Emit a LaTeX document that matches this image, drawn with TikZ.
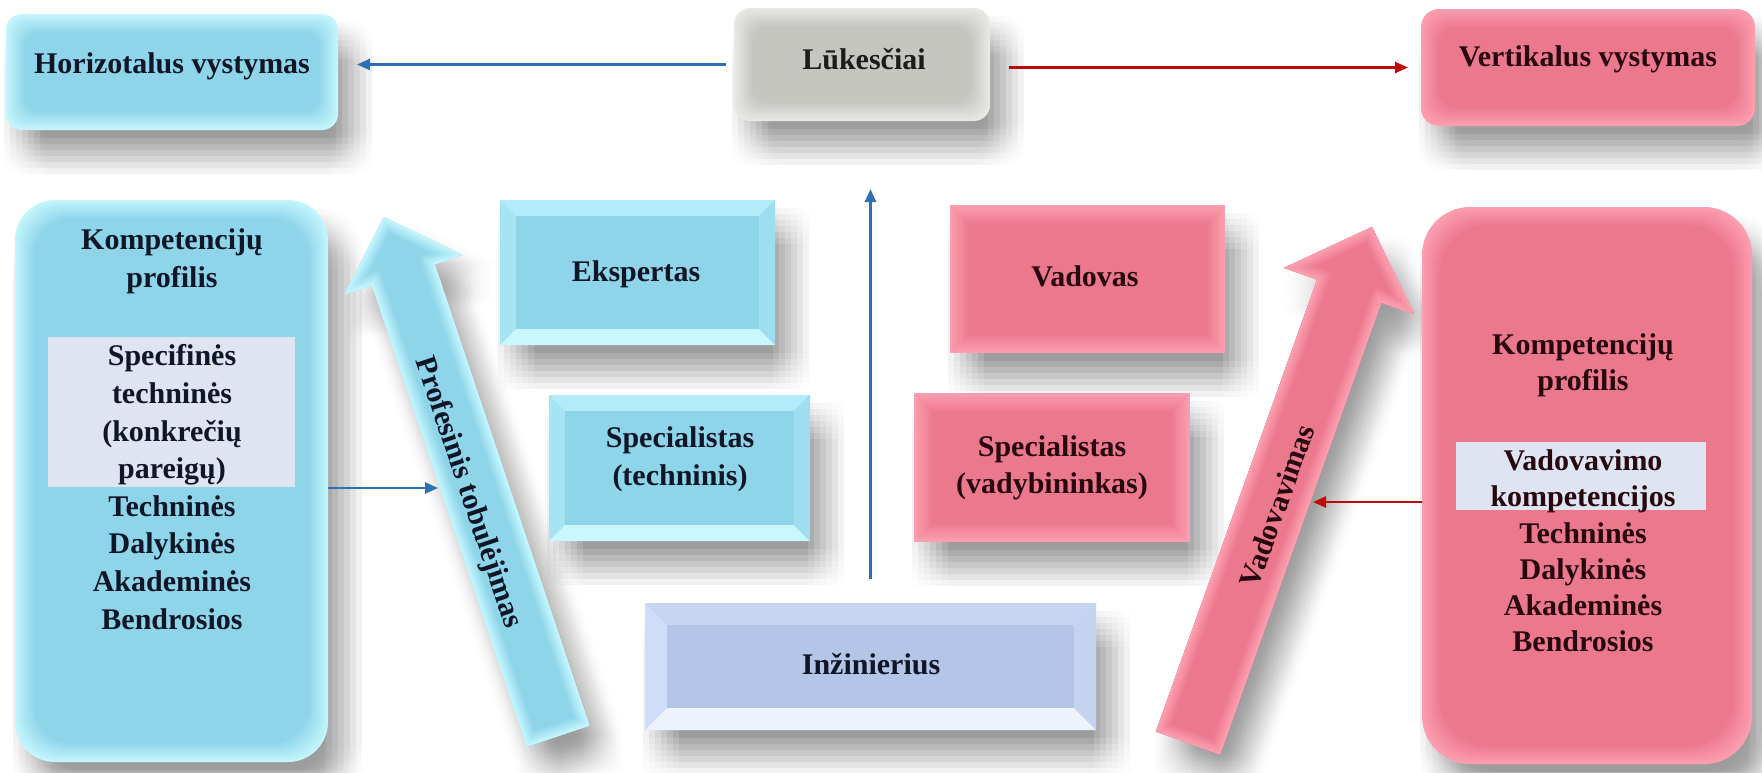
\documentclass[tikz,border=0pt]{standalone}
\usepackage{fontspec}
\setmainfont{Liberation Serif}
\usetikzlibrary{arrows.meta,calc,backgrounds}

\definecolor{bluebase}{RGB}{143,213,233}
\definecolor{bluerim}{RGB}{195,245,253}
\definecolor{pinkbase}{RGB}{236,120,142}
\definecolor{pinkrim}{RGB}{252,158,175}
\definecolor{greybase}{RGB}{198,198,193}
\definecolor{greyrim}{RGB}{232,232,229}
\definecolor{lavbase}{RGB}{180,198,231}
\definecolor{panel}{RGB}{222,228,242}
\definecolor{bevtop}{RGB}{178,236,248}
\definecolor{bevleft}{RGB}{166,228,244}
\definecolor{bevbot}{RGB}{200,248,253}
\definecolor{bevright}{RGB}{158,222,240}
\definecolor{lavtop}{RGB}{198,214,242}
\definecolor{lavleft}{RGB}{206,222,248}
\definecolor{lavbot}{RGB}{236,243,253}
\definecolor{lavright}{RGB}{196,212,240}
\definecolor{inkblue}{RGB}{14,22,40}
\definecolor{inkred}{RGB}{40,8,14}
\definecolor{inkgrey}{RGB}{28,28,28}
\definecolor{lineblue}{RGB}{46,112,180}
\definecolor{linered}{RGB}{190,10,10}

% concentric layers fading from a light rim into the body colour
\newcommand{\glowlayers}[3]{%
  \foreach \k in {1,...,10}{%
    \pgfmathsetmacro{\share}{100-10*\k}%
    \fill[#1!\share!#2, rounded corners=#3]
      ($(path picture bounding box.north west)+(1.8*\k,1.8*\k)$) rectangle
      ($(path picture bounding box.south east)+(-1.8*\k,-1.8*\k)$);
  }}

% four bevel strips round a flat centre
\newcommand{\bevellayers}[6]{%
  \coordinate (q1) at (path picture bounding box.north west);
  \coordinate (q2) at (path picture bounding box.north east);
  \coordinate (q3) at (path picture bounding box.south east);
  \coordinate (q4) at (path picture bounding box.south west);
  \coordinate (r1) at ($(q1)+(#6,#6)$);
  \coordinate (r2) at ($(q2)+(-#6,#6)$);
  \coordinate (r3) at ($(q3)+(-#6,-#6)$);
  \coordinate (r4) at ($(q4)+(#6,-#6)$);
  \fill[#1] (q1) -- (q2) -- (r2) -- (r1) -- cycle;
  \fill[#2] (q1) -- (r1) -- (r4) -- (q4) -- cycle;
  \fill[#3] (q4) -- (r4) -- (r3) -- (q3) -- cycle;
  \fill[#4] (q2) -- (q3) -- (r3) -- (r2) -- cycle;
  \fill[#5] (r1) rectangle (r3);
}

% outlines of the two wide block arrows
\newcommand{\profshape}[1]{\path[#1] (pf1) -- (pf2) -- (pf3) -- (pfT) -- (pf5) -- (pf6) -- (pf7) -- cycle;}
\newcommand{\vadshape}[1]{\path[#1] (va1) -- (va2) -- (va3) -- (vaT) -- (va5) -- (va6) -- (va7) -- cycle;}

% block arrow body with a soft light edge
\newcommand{\arrowbody}[3]{%
  \begin{scope}
    #1{clip}
    #1{fill=#3}
    \foreach \k in {1,...,8}{%
      \pgfmathsetmacro{\share}{12.5*\k}%
      \pgfmathsetmacro{\lw}{2*(9-\k)*1.5}%
      #1{draw=#2!\share!#3, line width=\lw pt, line join=miter}
    }
  \end{scope}}

% soft drop shadow: many faint copies spread round an offset
\newcommand{\castbox}[2]{%
  \foreach \dx in {-18,-12,...,18}{\foreach \dy in {-18,-12,...,18}{%
    \pgfmathsetmacro{\sx}{16+\dx}\pgfmathsetmacro{\sy}{-26-\dy}%
    \begin{scope}[transform canvas={xshift=\sx pt, yshift=\sy pt}]
      \fill[black, fill opacity=0.009, rounded corners=#2] (#1.north west) rectangle (#1.south east);
    \end{scope}}}}
\newcommand{\castshape}[1]{%
  \foreach \dx in {-18,-12,...,18}{\foreach \dy in {-18,-12,...,18}{%
    \pgfmathsetmacro{\sx}{16+\dx}\pgfmathsetmacro{\sy}{-26-\dy}%
    \begin{scope}[transform canvas={xshift=\sx pt, yshift=\sy pt}]
      #1{fill=black, fill opacity=0.009}
    \end{scope}}}}

\tikzset{
  card/.style={inner sep=0pt, outer sep=0pt},
  glowcard/.style n args={3}{card, fill=#1, rounded corners=#3,
    path picture={\glowlayers{#1}{#2}{#3}}},
  bevelcard/.style n args={6}{card, fill=#5,
    path picture={\bevellayers{#1}{#2}{#3}{#4}{#5}{#6}}},
  word/.style={inner sep=0pt, align=center, font=\bfseries\fontsize{30}{37.6}\selectfont},
  link/.style={line width=2.4pt, -{Triangle[length=13pt,width=11pt]}},
}

\begin{document}
\begin{tikzpicture}[x=1pt, y=-1pt]
\useasboundingbox (0,0) rectangle (1762,772);

% ---- boxes
\node[glowcard={bluerim}{bluebase}{16pt}, minimum width=332pt, minimum height=116pt] (hor) at (172,72) {};
\node[glowcard={greyrim}{greybase}{16pt}, minimum width=256pt, minimum height=113pt] (luk) at (862,64.5) {};
\node[glowcard={pinkrim}{pinkbase}{18pt}, minimum width=334pt, minimum height=117pt] (ver) at (1588,67.5) {};
\node[glowcard={bluerim}{bluebase}{40pt}, minimum width=313pt, minimum height=562pt] (kl) at (171.5,481) {};
\node[glowcard={pinkrim}{pinkbase}{48pt}, minimum width=330pt, minimum height=557pt] (kr) at (1587,485.5) {};
\node[bevelcard={bevtop}{bevleft}{bevbot}{bevright}{bluebase}{16}, minimum width=275pt, minimum height=145pt] (eks) at (637.5,272.5) {};
\node[bevelcard={bevtop}{bevleft}{bevbot}{bevright}{bluebase}{16}, minimum width=261pt, minimum height=146pt] (spt) at (679.5,468) {};
\node[bevelcard={lavtop}{lavleft}{lavbot}{lavright}{lavbase}{22}, minimum width=451pt, minimum height=127pt] (inz) at (870.5,666.5) {};
\node[glowcard={pinkrim}{pinkbase}{0pt}, minimum width=275pt, minimum height=148pt] (vad) at (1087.5,279) {};
\node[glowcard={pinkrim}{pinkbase}{0pt}, minimum width=276pt, minimum height=149pt] (spv) at (1052,467.5) {};
\node[card, fill=panel, minimum width=247pt, minimum height=150pt] (pl) at (171.5,412) {};
\node[card, fill=panel, minimum width=250pt, minimum height=68pt] (pr) at (1581,476) {};

% ---- block arrows
\coordinate (pfB) at (558,736);
\coordinate (pfT) at (384,217);
\coordinate (pfH) at ($(pfT)!61pt!(pfB)$);
\coordinate (pf1) at ($(pfB)!33pt!90:(pfT)$);
\coordinate (pf2) at ($(pfH)!33pt!90:(pfT)$);
\coordinate (pf3) at ($(pfH)!62pt!90:(pfT)$);
\coordinate (pf5) at ($(pfH)!62pt!-90:(pfT)$);
\coordinate (pf6) at ($(pfH)!33pt!-90:(pfT)$);
\coordinate (pf7) at ($(pfB)!33pt!-90:(pfT)$);

\coordinate (vaB) at (1188,743);
\coordinate (vaT) at (1372,227);
\coordinate (vaH) at ($(vaT)!68pt!(vaB)$);
\coordinate (va1) at ($(vaB)!34pt!90:(vaT)$);
\coordinate (va2) at ($(vaH)!34pt!90:(vaT)$);
\coordinate (va3) at ($(vaH)!69pt!90:(vaT)$);
\coordinate (va5) at ($(vaH)!69pt!-90:(vaT)$);
\coordinate (va6) at ($(vaH)!34pt!-90:(vaT)$);
\coordinate (va7) at ($(vaB)!34pt!-90:(vaT)$);

\arrowbody{\profshape}{bluerim}{bluebase}
\arrowbody{\vadshape}{pinkrim}{pinkbase}

% ---- texts
\node[word, text=inkblue] (hor-t) at (172,66) {Horizotalus vystymas};
\node[word, text=inkgrey] (luk-t) at (864,59) {Lūkesčiai};
\node[word, text=inkred] (ver-t) at (1588,59) {Vertikalus vystymas};
\node[word, text=inkblue] (kl-head) at (172,261) {Kompetencijų\\profilis};
\node[word, text=inkblue] (kl-list) at (172,487) {Specifinės\\techninės\\(konkrečių\\pareigų)\\Techninės\\Dalykinės\\Akademinės\\Bendrosios};
\node[word, text=inkred, font=\bfseries\fontsize{30}{36.2}\selectfont] (kr-head) at (1583,365) {Kompetencijų\\profilis};
\node[word, text=inkred, font=\bfseries\fontsize{30}{36.2}\selectfont] (kr-list) at (1583,551) {Vadovavimo\\kompetencijos\\Techninės\\Dalykinės\\Akademinės\\Bendrosios};
\node[word, text=inkblue] (eks-t) at (636,274) {Ekspertas};
\node[word, text=inkblue] (spt-t) at (680,459) {Specialistas\\(techninis)};
\node[word, text=inkblue] (inz-t) at (871,664) {Inžinierius};
\node[word, text=inkred] (vad-t) at (1085,276) {Vadovas};
\node[word, text=inkred] (spv-t) at (1052,468) {Specialistas\\(vadybininkas)};
\node[word, text=inkblue, rotate=-71.4] (prof-t) at (468,493) {Profesinis tobulėjimas};
\node[word, text=inkred, rotate=70.4] (vadov-t) at (1277,506) {Vadovavimas};

% ---- connectors
\coordinate (profin) at (438,488);
\coordinate (vadin) at (1313,502);
\draw[link, lineblue, shorten >=19pt] ([xshift=-8pt]luk.west) -- (luk.west -| hor.east);
\draw[link, linered, shorten >=13pt] ([xshift=19pt,yshift=-3pt]luk.east) -- ([yshift=-3pt]luk.east -| ver.west);
\draw[link, lineblue, shorten <=24pt, shorten >=68pt] (inz.north) -- (inz.north |- luk.south);
\draw[link, lineblue] (kl.east |- profin) -- (profin);
\draw[link, linered] (kr.west |- vadin) -- (vadin);

% ---- page and soft shadows underneath
\begin{scope}[on background layer]
  \fill[white] (0,0) rectangle (1762,772);
  \castbox{hor}{16pt}
  \castbox{luk}{16pt}
  \castbox{ver}{18pt}
  \castbox{kl}{40pt}
  \castbox{kr}{48pt}
  \castbox{eks}{0pt}
  \castbox{spt}{0pt}
  \castbox{inz}{0pt}
  \castbox{vad}{0pt}
  \castbox{spv}{0pt}
  \castshape{\profshape}
  \castshape{\vadshape}
\end{scope}
\end{tikzpicture}
\end{document}
